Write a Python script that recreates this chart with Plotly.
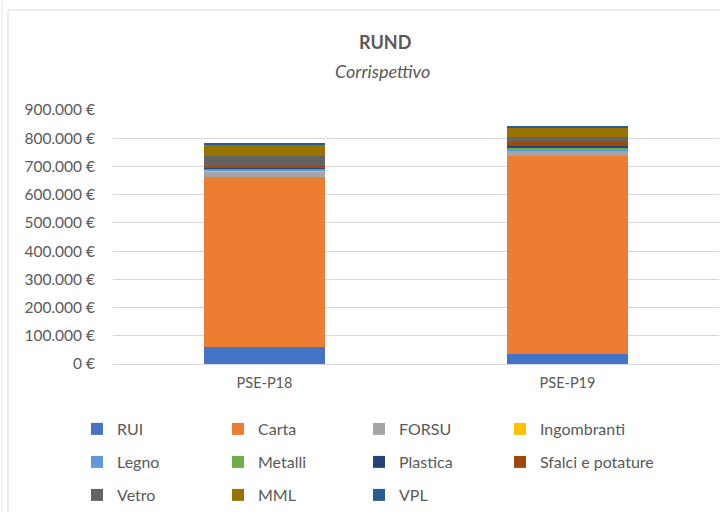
import plotly.graph_objects as go

categories = ["PSE-P18", "PSE-P19"]

series_names = ["RUI", "Carta", "FORSU", "Ingombranti", "Legno", "Metalli",
                "Plastica", "Sfalci e potature", "Vetro", "MML", "VPL"]

rui = [60000, 34000]
carta = [603000, 702000]
forsu = [20000, 21000]
ingombranti = [1000, 1000]
legno = [6000, 6000]
metalli = [1000, 1000]
plastica = [2000, 8000]
sfalci = [8000, 12000]
vetro = [36000, 21000]
mml = [40000, 33000]
vpl = [5000, 4000]

series_values = [rui, carta, forsu, ingombranti, legno, metalli,
                 plastica, sfalci, vetro, mml, vpl]

colors = ["#4472C4", "#ED7D31", "#A5A5A5", "#FFC000", "#5B9BD5", "#70AD47",
          "#264478", "#9E480E", "#636363", "#997300", "#255E91"]

tick_vals = [0, 100000, 200000, 300000, 400000, 500000, 600000, 700000, 800000, 900000]
tick_text = ["0 €", "100.000 €", "200.000 €", "300.000 €", "400.000 €", "500.000 €",
             "600.000 €", "700.000 €", "800.000 €", "900.000 €"]

FONT = "Lato"
TXT = "#595959"

# plot area in pixels
L, R, T, B = 113, 1, 110, 148
W = 720 - L - R
H = 512 - T - B

def px_x(p):
    return (p - L) / W

def px_y(p):
    return (512 - B - p) / H

fig = go.Figure()
legend_layout = {}
for i, (name, vals, col) in enumerate(zip(series_names, series_values, colors)):
    lid = "legend" if i == 0 else f"legend{i + 1}"
    fig.add_trace(go.Bar(
        x=categories, y=vals, name=name,
        marker=dict(color=col, line=dict(width=0)),
        legend=lid, showlegend=True,
    ))
    row, colno = divmod(i, 4)
    legend_layout[lid] = dict(
        orientation="h", xanchor="left", yanchor="middle",
        xref="container", yref="container",
        x=(77 + colno * 141) / 720, y=1 - (429 + row * 33) / 512,
        font=dict(family=FONT, size=16, color=TXT),
        bgcolor="rgba(0,0,0,0)",
    )

fig.update_layout(
    width=720, height=512,
    showlegend=True,
    margin=dict(l=L, r=R, t=T, b=B, autoexpand=False),
    barmode="stack",
    bargap=0.6,
    separators=",.",
    plot_bgcolor="white",
    paper_bgcolor="white",
    font=dict(family=FONT, size=14, color=TXT),
    xaxis=dict(showgrid=False, showline=False, ticks="",
               tickfont=dict(family=FONT, size=14.5, color=TXT),
               ticklabelstandoff=8),
    yaxis=dict(range=[0, 900000], tickvals=tick_vals, ticktext=tick_text,
               showgrid=True, gridcolor="#D9D9D9", gridwidth=1,
               zeroline=True, zerolinecolor="#D9D9D9", zerolinewidth=1,
               showline=False, ticks="",
               tickfont=dict(family=FONT, size=15.5, color=TXT),
               ticklabelstandoff=17),
    annotations=[
        dict(text="<b>RUND</b>", xref="paper", yref="paper",
             x=px_x(385), y=px_y(42), xanchor="center", yanchor="middle",
             showarrow=False, font=dict(family=FONT, size=18, color=TXT)),
        dict(text="<i>Corrispettivo</i>", xref="paper", yref="paper",
             x=px_x(382), y=px_y(71), xanchor="center", yanchor="middle",
             showarrow=False, font=dict(family=FONT, size=18, color=TXT)),
    ],
    shapes=[
        dict(type="rect", xref="paper", yref="paper",
             x0=px_x(8), x1=px_x(760), y0=px_y(560), y1=px_y(10),
             line=dict(color="#D9D9D9", width=1), fillcolor="rgba(0,0,0,0)",
             layer="below"),
        dict(type="line", xref="paper", yref="paper",
             x0=px_x(2), x1=px_x(2), y0=px_y(560), y1=px_y(0),
             line=dict(color="#E3E3E3", width=1)),
    ],
)
fig.update_layout(**legend_layout)

fig.write_html("out.html", config={"displayModeBar": False},
               post_script="document.body.style.margin='0';document.body.style.overflow='hidden';")
